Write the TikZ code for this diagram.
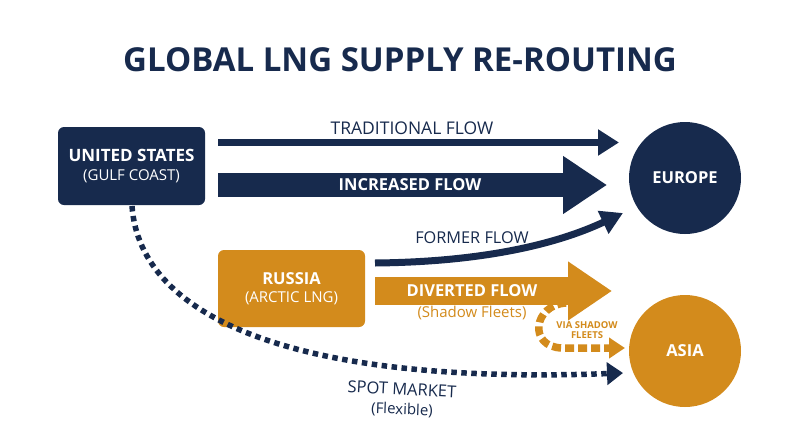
\documentclass[tikz,border=0pt]{standalone}
\usepackage{fontspec}
\setmainfont{Open Sans}
\usetikzlibrary{arrows.meta}
\definecolor{navy}{HTML}{172A4D}
\definecolor{amber}{HTML}{D38B1C}
\begin{document}
\begin{tikzpicture}[x=1pt,y=-1pt,
  srcbox/.style={rounded corners=6pt, minimum width=147pt, inner sep=0pt, text=white, align=center},
  market/.style={circle, minimum size=112pt, inner sep=0pt, text=white, font=\fontsize{16.5}{18}\selectfont\bfseries},
  lbl/.style={inner sep=0pt, align=center},
]
\useasboundingbox (0,0) rectangle (800,447);
\fill[white] (0,0) rectangle (800,447);

% title
\node[lbl, text=navy, font=\fontsize{33}{36}\selectfont\bfseries] (title) at (400,59.5) {GLOBAL LNG SUPPLY RE-ROUTING};

% sources and markets
\node[srcbox, fill=navy, minimum height=78pt, font=\fontsize{15}{19.5}\selectfont] (us) at (131.5,166)
  {{\fontsize{17}{19.5}\selectfont\bfseries UNITED STATES}\\{\fontsize{15}{19.5}\selectfont (GULF COAST)}};
\node[srcbox, fill=amber, minimum height=77pt, font=\fontsize{15}{18.5}\selectfont] (ru) at (291.5,288.5)
  {{\fontsize{16.5}{18.5}\selectfont\bfseries RUSSIA}\\{\fontsize{15}{18.5}\selectfont (ARCTIC LNG)}};
\node[market, fill=navy] (eu) at (685,178) {EUROPE};
\node[market, fill=amber] (as) at (685,351) {ASIA};

% end points
\coordinate (tradS) at (218,142.5);
\coordinate (tradE) at (619,142.5);
\coordinate (incS) at (218,185);
\coordinate (incE) at (607,185);
\coordinate (formS) at (375,263);
\coordinate (formE) at (623,213);
\coordinate (divS) at (375,291);
\coordinate (divE) at (612,291);
\coordinate (viaS) at (566,303);
\coordinate (viaE) at (625,348);
\coordinate (spotS) at (132,206);
\coordinate (spotE) at (623,373);

% flows
\draw[navy, line width=7pt, -{Triangle[length=21pt,width=25pt]}] (tradS) -- (tradE);
\draw[navy, line width=24pt, -{Triangle[length=44pt,width=55pt]}] (incS) -- (incE);
\draw[navy, line width=7pt, -{Triangle[length=22pt,width=24pt]}]
  (formS) .. controls (480,262) and (555,245) .. (formE);
\draw[amber, line width=28pt, -{Triangle[length=44pt,width=56pt]}] (divS) -- (divE);
\draw[amber, line width=7.5pt, dash pattern=on 9pt off 4pt, -{Triangle[length=16pt,width=20pt]}]
  (viaS) .. controls (533,305) and (528,347) .. (562,348) -- (viaE);
\draw[navy, line width=5.5pt, dash pattern=on 5.5pt off 4.5pt, -{Triangle[length=16pt,width=22pt]}]
  (spotS) .. controls (140,320) and (300,385) .. (spotE);

% labels
\node[lbl, text=navy, font=\fontsize{17.5}{18}\selectfont] (tradL) at (412,128) {TRADITIONAL FLOW};
\node[lbl, text=white, font=\fontsize{16.5}{18}\selectfont\bfseries] (incL) at (410,185) {INCREASED FLOW};
\node[lbl, text=navy, font=\fontsize{16.3}{18}\selectfont] (formL) at (472,238) {FORMER FLOW};
\node[lbl, text=white, font=\fontsize{16.5}{18}\selectfont\bfseries] (divL) at (472,291) {DIVERTED FLOW};
\node[lbl, text=amber, font=\fontsize{15}{18}\selectfont] (shadL) at (472,313) {(Shadow Fleets)};
\node[lbl, text=amber, font=\fontsize{9.5}{10.5}\selectfont\bfseries] (viaL) at (587,330) {VIA SHADOW\\FLEETS};
\node[lbl, text=navy, font=\fontsize{16.5}{18}\selectfont, rotate=-3] (spotL) at (402,389) {SPOT MARKET};
\node[lbl, text=navy, font=\fontsize{15}{16}\selectfont, rotate=-2] (flexL) at (402,410) {(Flexible)};
\end{tikzpicture}
\end{document}
